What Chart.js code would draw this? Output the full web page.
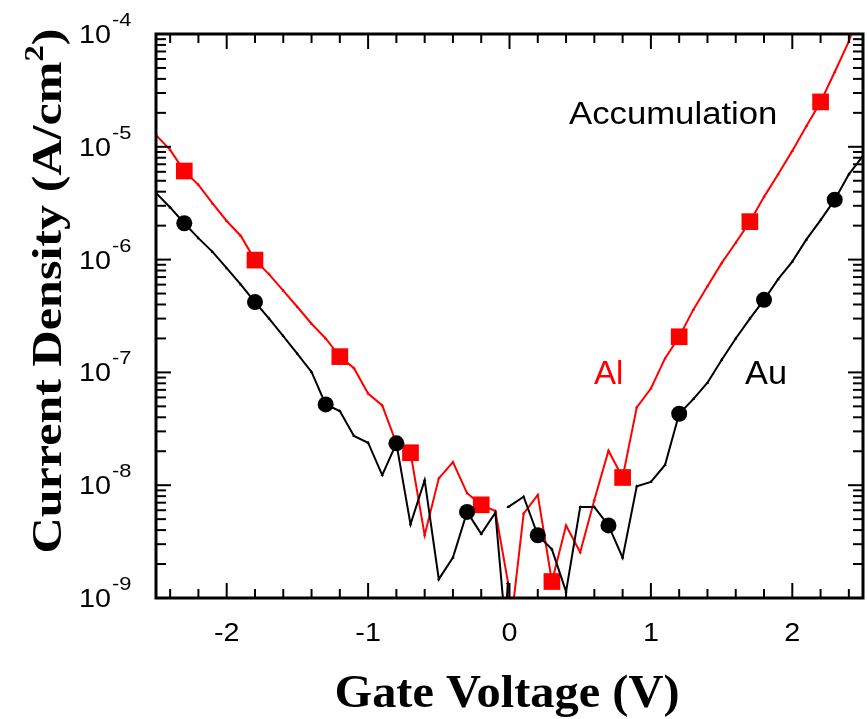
<!DOCTYPE html>
<html>
<head>
<meta charset="utf-8">
<script src="https://cdn.jsdelivr.net/npm/chart.js@4/dist/chart.umd.min.js"></script>
<style>
  body { margin: 0; background: #fff; }
  #wrap { width: 868px; height: 719px; }
</style>
</head>
<body>
<div id="wrap"><canvas id="c" width="868" height="719"></canvas></div>
<script>
// Au electrode: gate voltage (V) and current density (A/cm2); null = break in the curve
var auV = [-2.5, -2.4, -2.3, -2.2, -2.1, -2.0, -1.9, -1.8, -1.7, -1.6, -1.5, -1.4, -1.3, -1.2, -1.1, -1.0,
           -0.9, -0.8, -0.7, -0.6, -0.5, -0.4, -0.3, -0.2, -0.1, -0.03, -0.012, -0.011, -0.01,
           0.1, 0.2, 0.3, 0.4, 0.5, 0.6, 0.7, 0.8, 0.9, 1.0, 1.1, 1.2, 1.3, 1.4, 1.5, 1.6, 1.7,
           1.8, 1.9, 2.0, 2.1, 2.2, 2.3, 2.4, 2.5];
var auJ = [3.9e-6, 2.9e-6, 2.1e-6, 1.55e-6, 1.17e-6, 8.4e-7, 6.0e-7, 4.2e-7, 3.0e-7, 2.1e-7, 1.46e-7, 1.01e-7, 5.2e-8, 4.55e-8, 2.73e-8, 2.38e-8,
           1.23e-8, 2.35e-8, 4.5e-9, 1.11e-8, 1.47e-9, 2.28e-9, 5.8e-9, 3.7e-9, 5.7e-9, 5.8e-10, 1.36e-9, null, 6.4e-9,
           7.9e-9, 3.6e-9, 2.7e-9, 1.14e-9, 6.4e-9, 6.4e-9, 4.4e-9, 2.28e-9, 9.8e-9, 1.07e-8, 1.51e-8, 4.3e-8, 5.8e-8, 8.1e-8, 1.29e-7, 2.0e-7, 3.0e-7,
           4.4e-7, 6.7e-7, 9.6e-7, 1.51e-6, 2.24e-6, 3.4e-6, 5.7e-6, 8.3e-6];
var auMarks = [-2.3, -1.8, -1.3, -0.8, -0.3, 0.2, 0.7, 1.2, 1.8, 2.3];

// Al electrode
var alV = [-2.5, -2.4, -2.3, -2.2, -2.1, -2.0, -1.9, -1.8, -1.7, -1.6, -1.5, -1.4, -1.3, -1.2, -1.1, -1.0,
           -0.9, -0.8, -0.7, -0.6, -0.5, -0.4, -0.3, -0.2, -0.1, -0.01, 0.013,
           0.1, 0.2, 0.3, 0.4, 0.5, 0.6, 0.7, 0.8, 0.9, 1.0, 1.1, 1.2, 1.3, 1.4, 1.5, 1.6, 1.7,
           1.8, 1.9, 2.0, 2.1, 2.2, 2.3, 2.4, 2.5];
var alJ = [1.27e-5, 9.4e-6, 6.1e-6, 4.6e-6, 3.15e-6, 2.2e-6, 1.62e-6, 9.9e-7, 7.4e-7, 5.3e-7, 3.8e-7, 2.7e-7, 2.0e-7, 1.38e-7, 1.09e-7, 6.5e-8,
           5.1e-8, 2.35e-8, 1.94e-8, 3.6e-9, 1.15e-8, 1.6e-8, 8.5e-9, 6.7e-9, 5.9e-9, 1.36e-9, 6.3e-10,
           5.6e-9, 8.2e-9, 1.4e-9, 4.4e-9, 2.54e-9, 7.4e-9, 2.02e-8, 1.17e-8, 4.9e-8, 7.2e-8, 1.33e-7, 2.07e-7, 3.6e-7, 5.8e-7, 9.3e-7, 1.41e-6, 2.17e-6,
           3.6e-6, 5.7e-6, 9.2e-6, 1.53e-5, 2.5e-5, 4.6e-5, 8.6e-5, 2.0e-4];
var alMarks = [-2.3, -1.8, -1.2, -0.7, -0.2, 0.3, 0.8, 1.2, 1.7, 2.2];

// axes
var xLabels = [-2, -1, 0, 1, 2];
var xMinor = [-2.4, -2.2, -1.8, -1.6, -1.4, -1.2, -0.8, -0.6, -0.4, -0.2, 0.2, 0.4, 0.6, 0.8, 1.2, 1.4, 1.6, 1.8, 2.2, 2.4];
var yExponents = [-4, -5, -6, -7, -8, -9];

var SANS = '"Liberation Sans", Arial, sans-serif';
var SERIF = '"Liberation Serif", "Times New Roman", serif';
var STRETCH = 1.15; // the original figure is a little wider than tall

function toPoints(vs, js) {
    return vs.map(function(v, i) { return {x: v, y: js[i]}; });
}
function isMark(list, v) {
    return list.some(function(m) { return Math.abs(m - v) < 1e-6; });
}

// horizontal text, stretched sideways like the source figure
function wideText(ctx, text, x, y, align, sx) {
    ctx.save();
    ctx.translate(x, y);
    ctx.scale(sx, 1);
    ctx.textAlign = align;
    ctx.fillText(text, 0, 0);
    ctx.restore();
}

var frame = {
    id: 'frame',
    afterDraw: function(chart) {
        var ctx = chart.ctx, a = chart.chartArea;
        var xs = chart.scales.x, ys = chart.scales.y;
        ctx.save();
        ctx.strokeStyle = '#000';
        ctx.lineWidth = 2;
        function seg(x1, y1, x2, y2) {
            ctx.beginPath(); ctx.moveTo(x1, y1); ctx.lineTo(x2, y2); ctx.stroke();
        }
        xLabels.forEach(function(v) {
            var p = xs.getPixelForValue(v);
            seg(p, a.bottom, p, a.bottom - 15);
            seg(p, a.top, p, a.top + 15);
        });
        xMinor.forEach(function(v) {
            var p = xs.getPixelForValue(v);
            seg(p, a.bottom, p, a.bottom - 9);
            seg(p, a.top, p, a.top + 9);
        });
        yExponents.forEach(function(e) {
            var p = ys.getPixelForValue(Math.pow(10, e));
            seg(a.left, p, a.left + 15, p);
            seg(a.right, p, a.right - 15, p);
            if (e > -9) {
                for (var k = 2; k <= 9; k++) {
                    var q = ys.getPixelForValue(k * Math.pow(10, e - 1));
                    seg(a.left, q, a.left + 10, q);
                    seg(a.right, q, a.right - 10, q);
                }
            }
        });
        ctx.lineWidth = 3;
        ctx.strokeRect(a.left, a.top, a.right - a.left, a.bottom - a.top);

        // tick labels
        ctx.fillStyle = '#000';
        ctx.textBaseline = 'alphabetic';
        ctx.font = '25px ' + SANS;
        xLabels.forEach(function(v) {
            wideText(ctx, String(v), xs.getPixelForValue(v), 641, 'center', STRETCH);
        });
        yExponents.forEach(function(e) {
            var p = ys.getPixelForValue(Math.pow(10, e));
            ctx.font = '25px ' + SANS;
            wideText(ctx, '10', 79, p + 9, 'left', STRETCH);
            var w = ctx.measureText('10').width * STRETCH;
            ctx.font = '19px ' + SANS;
            wideText(ctx, String(e), 79 + w + 1, p - 8, 'left', STRETCH);
        });

        // axis titles
        ctx.font = 'bold 46px ' + SERIF;
        var xt = 'Gate Voltage (V)';
        var xw = ctx.measureText(xt).width;
        wideText(ctx, xt, 507, 707, 'center', 345 / xw);

        ctx.save();
        ctx.translate(61, 291);
        ctx.rotate(-Math.PI / 2);
        ctx.textAlign = 'left';
        ctx.font = 'bold 43px ' + SERIF;
        var t1 = 'Current Density (A/cm', t3 = ')';
        var w1 = ctx.measureText(t1).width, w3 = ctx.measureText(t3).width;
        ctx.font = 'bold 28px ' + SERIF;
        var w2 = ctx.measureText('2').width;
        var tot = w1 + w2 + w3;
        ctx.scale(525 / tot, 1);
        var x0 = -tot / 2;
        ctx.font = 'bold 43px ' + SERIF;
        ctx.fillText(t1, x0, 0);
        ctx.fillText(t3, x0 + w1 + w2, 0);
        ctx.font = 'bold 28px ' + SERIF;
        ctx.fillText('2', x0 + w1, -18);
        ctx.restore();

        // annotations
        ctx.font = '31px ' + SANS;
        ctx.fillStyle = '#000';
        wideText(ctx, 'Accumulation', 569, 124, 'left', 1.12);
        ctx.font = '33px ' + SANS;
        ctx.fillStyle = '#ff0000';
        wideText(ctx, 'Al', 594, 384, 'left', 1.0);
        ctx.fillStyle = '#000';
        wideText(ctx, 'Au', 745, 384, 'left', 1.04);
        ctx.restore();
    }
};

new Chart(document.getElementById('c'), {
    type: 'line',
    data: {
        datasets: [{
            label: 'Au',
            data: toPoints(auV, auJ),
            borderColor: '#000',
            backgroundColor: '#000',
            borderWidth: 2,
            pointBorderWidth: 0,
            pointStyle: function(c) { return isMark(auMarks, c.raw.x) ? 'circle' : 'triangle'; },
            pointRadius: function(c) { return isMark(auMarks, c.raw.x) ? 8 : 2; },
            spanGaps: false,
            tension: 0
        }, {
            label: 'Al',
            data: toPoints(alV, alJ),
            borderColor: '#ff0000',
            backgroundColor: '#ff0000',
            borderWidth: 2,
            pointBorderWidth: 0,
            pointStyle: function(c) { return isMark(alMarks, c.raw.x) ? 'rect' : 'triangle'; },
            pointRadius: function(c) { return isMark(alMarks, c.raw.x) ? 11.8 : 2; },
            spanGaps: false,
            tension: 0
        }]
    },
    options: {
        responsive: false,
        animation: false,
        events: [],
        layout: { padding: { left: 156, right: 5, top: 34, bottom: 121 } },
        plugins: { legend: { display: false }, tooltip: { enabled: false } },
        scales: {
            x: {
                type: 'linear', min: -2.5, max: 2.5,
                grid: { display: false }, border: { display: false },
                ticks: { display: false },
                afterFit: function(s) { s.height = 0; }
            },
            y: {
                type: 'logarithmic', min: 1e-9, max: 1e-4,
                grid: { display: false }, border: { display: false },
                ticks: { display: false },
                afterFit: function(s) { s.width = 0; }
            }
        }
    },
    plugins: [frame]
});
</script>
</body>
</html>
